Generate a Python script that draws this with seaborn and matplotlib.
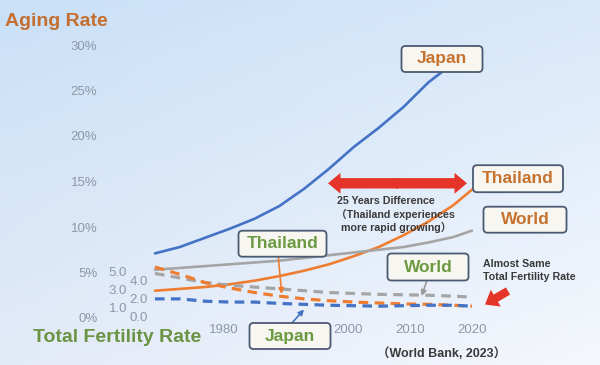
import numpy as np
import pandas as pd
import seaborn as sns
import matplotlib.pyplot as plt
import matplotlib.patches as mpatches
import matplotlib.transforms as mtransforms

# data (aging rate in %, fertility in births per woman)
years = [1969, 1973, 1977, 1981, 1985, 1989, 1993, 1997, 2001, 2005, 2009, 2013, 2017, 2020]
aging_japan = [7.1, 7.8, 8.8, 9.8, 10.9, 12.3, 14.2, 16.4, 18.8, 20.9, 23.2, 25.9, 28.0, 29.3]
aging_thailand = [3.0, 3.2, 3.4, 3.7, 4.1, 4.6, 5.2, 5.9, 6.8, 7.8, 9.1, 10.6, 12.4, 14.1]
aging_world = [5.3, 5.5, 5.7, 5.9, 6.1, 6.3, 6.6, 6.9, 7.2, 7.5, 7.8, 8.3, 8.9, 9.6]
tfr_japan = [2.1, 2.1, 1.85, 1.75, 1.75, 1.6, 1.5, 1.4, 1.35, 1.3, 1.35, 1.4, 1.4, 1.3]
tfr_thailand = [5.6, 4.8, 3.9, 3.3, 2.8, 2.4, 2.1, 1.9, 1.75, 1.65, 1.55, 1.5, 1.4, 1.3]
tfr_world = [4.9, 4.4, 3.9, 3.6, 3.4, 3.2, 3.0, 2.8, 2.7, 2.6, 2.55, 2.5, 2.4, 2.3]

pct_ticks = [0, 5, 10, 15, 20, 25, 30]
year_ticks = [1980, 2000, 2010, 2020]
tfr_ticks_a = [5.0, 3.0, 1.0]
tfr_ticks_b = [4.0, 2.0, 0.0]

BLUE, ORANGE, GRAY = '#4472c4', '#ee7d31', '#a5a5a5'
TXT_OR, TXT_GR = '#c5722f', '#6c9a42'
TICK = '#8c98a8'

sns.set_style('white')
plt.rcParams['font.family'] = ['Liberation Sans', 'Noto Sans CJK JP', 'DejaVu Sans']

W, H = 600, 365
fig = plt.figure(figsize=(6, 3.65), dpi=100)

# light blue gradient background
bg = fig.add_axes([0, 0, 1, 1], zorder=-5)
gx, gy = np.meshgrid(np.linspace(0, 1, 80), np.linspace(0, 1, 80))
tl = np.array([0.79, 0.88, 0.97])
tr = np.array([0.85, 0.91, 0.98])
bl = np.array([0.89, 0.92, 0.97])
br = np.array([0.96, 0.97, 0.99])
img = (tl * ((1 - gx) * (1 - gy))[..., None] + tr * (gx * (1 - gy))[..., None]
       + bl * ((1 - gx) * gy)[..., None] + br * (gx * gy)[..., None])
bg.imshow(img, aspect='auto', extent=[0, 1, 0, 1])
bg.axis('off')

# main axes placed so the data scale matches the original slide
ax = fig.add_axes([136.3 / W, 1 - 318 / H, 373 / W, 282.1 / H])
ax.patch.set_alpha(0)

df = pd.DataFrame({'year': years})
solid = [(aging_japan, BLUE), (aging_thailand, ORANGE), (aging_world, GRAY)]
dashed = [(tfr_world, GRAY), (tfr_thailand, ORANGE), (tfr_japan, BLUE)]
for vals, c in solid:
    sns.lineplot(x=df['year'], y=vals, color=c, lw=1.9, ax=ax, zorder=3)
for vals, c in dashed:
    sns.lineplot(x=df['year'], y=vals, color=c, lw=2.3, ax=ax, zorder=3,
                 linestyle=(0, (3.0, 2.0)))

ax.set_xlim(1966, 2026)
ax.set_ylim(0, 31)
ax.set_xticks(year_ticks)
ax.set_xticklabels([str(y) for y in year_ticks])
ax.set_yticks(pct_ticks)
ax.set_yticklabels([f'{p}%' for p in pct_ticks])
ax.tick_params(axis='y', length=0, pad=28, labelsize=9.5, labelcolor=TICK)
ax.tick_params(axis='x', length=0, pad=4, labelsize=9.5, labelcolor=TICK)
ax.set_xlabel('')
ax.set_ylabel('')
sns.despine(ax=ax, left=True, bottom=True)

# fertility scale (same units as the percent scale)
blend = mtransforms.blended_transform_factory(fig.transFigure, ax.transData)
for v in tfr_ticks_a:
    ax.text(118 / W, v, f'{v:.1f}', transform=blend, ha='center', va='center',
            fontsize=9.5, color=TICK)
for v in tfr_ticks_b:
    ax.text(139 / W, v, f'{v:.1f}', transform=blend, ha='center', va='center',
            fontsize=9.5, color=TICK)

ident = mtransforms.IdentityTransform()


def px(x, y):
    return (x, H - y)


def label_box(text, cx, cy, w, h, color):
    box = mpatches.FancyBboxPatch(px(cx - w / 2, cy + h / 2), w, h,
                                  boxstyle='round,pad=0,rounding_size=4',
                                  fc='#f8f6f0', ec='#4a5a72', lw=1.3,
                                  transform=ident, zorder=10)
    fig.add_artist(box)
    fig.text(cx / W, 1 - cy / H, text, ha='center', va='center', fontsize=12.5,
             fontweight='bold', color=color, zorder=11)


def arrow(p0, p1, color, style, **kw):
    a = mpatches.FancyArrowPatch(px(*p0), px(*p1), arrowstyle=style, color=color,
                                 transform=ident, zorder=9, shrinkA=0, shrinkB=0, **kw)
    fig.add_artist(a)


# thin pointer arrows for fertility labels
arrow((278.3, 256.7), (281.7, 294), ORANGE, '-|>', lw=1.2, mutation_scale=8)
arrow((426.7, 281), (421.7, 296), '#9a9a9a', '-|>', lw=1.2, mutation_scale=8)
arrow((291.7, 323.3), (304, 309.5), BLUE, '-|>', lw=1.2, mutation_scale=8)

label_box('Japan', 442, 59, 81, 26, TXT_OR)
label_box('Thailand', 518, 178.7, 90, 27, TXT_OR)
label_box('World', 525, 219.7, 83, 26, TXT_OR)
label_box('Thailand', 282.5, 243.7, 88, 26, TXT_GR)
label_box('World', 428, 267, 81, 27, TXT_GR)
label_box('Japan', 290, 336, 81, 26, TXT_GR)

# red double arrow (25 years difference)
RED = '#e5352a'
big = 'simple,head_length=9,head_width=15,tail_width=7.5'
arrow((398, 183.3), (328, 183.3), RED, big, mutation_scale=1, lw=0)
arrow((396, 183.3), (467, 183.3), RED, big, mutation_scale=1, lw=0)
arrow((508, 291), (485, 304.5), RED, 'simple,head_length=9,head_width=14,tail_width=6',
      mutation_scale=1, lw=0)

note = dict(fontsize=7.7, fontweight='bold', color='#3a3a3a', ha='left', va='center')
fig.text(336.7 / W, 1 - 201 / H, '25 Years Difference', **note)
fig.text(336 / W, 1 - 214 / H, '（Thailand experiences', **note)
fig.text(340.7 / W, 1 - 227.5 / H, 'more rapid growing）', **note)
fig.text(483 / W, 1 - 264.3 / H, 'Almost Same', **note)
fig.text(483 / W, 1 - 277.3 / H, 'Total Fertility Rate', **note)
fig.text(377 / W, 1 - 354 / H, '（World Bank, 2023）', fontsize=9, fontweight='bold',
         color='#3a3a3a', ha='left', va='center')

fig.text(5 / W, 1 - 21 / H, 'Aging Rate', fontsize=14, fontweight='bold',
         color='#c46e30', ha='left', va='center')
fig.text(33 / W, 1 - 338 / H, 'Total Fertility Rate', fontsize=14, fontweight='bold',
         color='#6a9444', ha='left', va='center')

fig.savefig('out.png', dpi=100)
